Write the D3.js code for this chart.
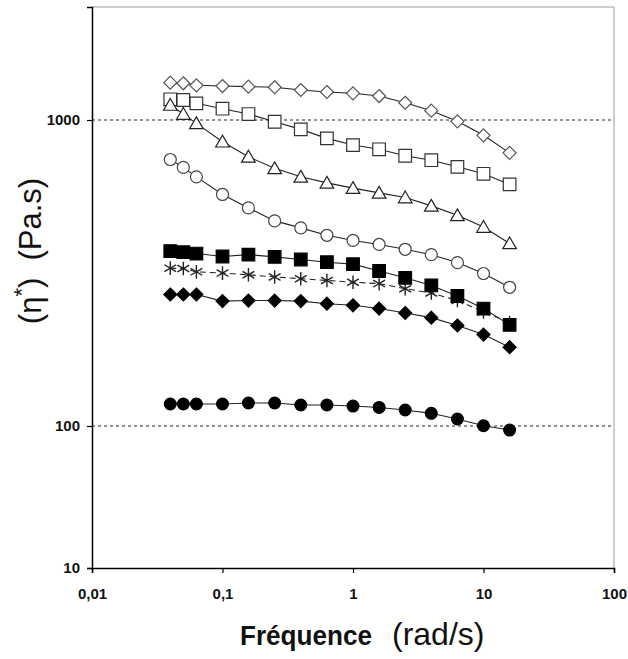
<!DOCTYPE html>
<html>
<head>
<meta charset="utf-8">
<script src="https://cdn.jsdelivr.net/npm/d3@7"></script>
<style>
  html, body { margin: 0; padding: 0; background: #fff; }
  svg { display: block; font-family: "Liberation Sans", Arial, sans-serif; }
  text { white-space: pre; }
</style>
</head>
<body>
<svg id="chart" width="628" height="659"></svg>
<script>
// Angular frequency sweep (rad/s)
const freq = [0.0398, 0.0501, 0.0631, 0.1, 0.158, 0.251, 0.398, 0.631, 1, 1.585, 2.512, 3.981, 6.31, 10, 15.85];

// Complex viscosity |η*| (Pa.s) for each sample
const openDiamond   = [1325, 1319, 1299, 1292, 1286, 1280, 1254, 1235, 1223, 1198, 1139, 1073, 990, 891, 781];
const openSquare    = [1169, 1163, 1134, 1089, 1046, 987, 932, 871, 828, 802, 764, 739, 703, 667, 616];
const openTriangle  = [1120, 1046, 975, 849, 758, 695, 652, 623, 599, 578, 558, 524, 488, 447, 395];
const openCircle    = [743, 700, 652, 571, 516, 468, 444, 420, 404, 392, 378, 363, 342, 315, 284];
const asterisk      = [328, 327, 319, 316, 312, 307, 303, 299, 295, 292, 281, 272, 257, 236, 218];
const filledSquare  = [373, 370, 366, 358, 363, 357, 350, 343, 338, 321, 305, 288, 266, 242, 214];
const filledDiamond = [269, 269, 269, 256, 257, 257, 256, 251, 248, 242, 234, 226, 213, 199, 181];
const filledCircle  = [118, 118, 118, 118, 118.9, 118.9, 117.1, 117.1, 116.2, 115.0, 112.8, 110.0, 105.4, 100.2, 93.6];

// Axis ticks and labels
const xTicks = [0.01, 0.1, 1, 10, 100];
const xTickLabels = ["0,01", "0,1", "1", "10", "100"];
const yTicks = [10, 100, 1000];
const yGrid = [100, 1000];
const yBreaks = [10, 100, 1000, 2345];

const svg = d3.select("#chart");
const plot = { left: 92, right: 614, top: 7, bottom: 568 };

const x = d3.scaleLog().domain([0.01, 100]).range([plot.left, plot.right]);
// Piecewise log axis: the lowest decade is drawn compressed
const y = d3.scaleLog().domain(yBreaks).range([568, 426, 120, plot.top]);

// Marker shapes; "size" is used as the half-width in pixels
const shapes = {
  diamond: { draw(c, r) { c.moveTo(0, -r); c.lineTo(r, 0); c.lineTo(0, r); c.lineTo(-r, 0); c.closePath(); } },
  square: { draw(c, r) { c.rect(-r, -r, 2 * r, 2 * r); } },
  triangle: { draw(c, r) { c.moveTo(0, -r * 1.05); c.lineTo(r * 1.1, r * 0.85); c.lineTo(-r * 1.1, r * 0.85); c.closePath(); } },
  circle: { draw(c, r) { c.moveTo(r, 0); c.arc(0, 0, r, 0, 2 * Math.PI); } },
  asterisk: { draw(c, r) {
    for (let i = 0; i < 3; i++) {
      const a = Math.PI / 2 + i * Math.PI / 3;
      c.moveTo(Math.cos(a) * r, Math.sin(a) * r);
      c.lineTo(-Math.cos(a) * r, -Math.sin(a) * r);
    }
  } }
};

const series = [
  { values: openDiamond,   shape: "diamond",  r: 6.5, fill: "#fff", stroke: "#555", sw: 1.2, dash: null },
  { values: openSquare,    shape: "square",   r: 6.3, fill: "#fff", stroke: "#333", sw: 1.2, dash: null },
  { values: openTriangle,  shape: "triangle", r: 6.2, fill: "#fff", stroke: "#222", sw: 1.2, dash: null },
  { values: openCircle,    shape: "circle",   r: 6,   fill: "#fff", stroke: "#444", sw: 1.2, dash: null },
  { values: asterisk,      shape: "asterisk", r: 6.8, fill: "none", stroke: "#222", sw: 1.4, dash: "6,4" },
  { values: filledSquare,  shape: "square",   r: 6.3, fill: "#000", stroke: "#000", sw: 1.2, dash: null },
  { values: filledDiamond, shape: "diamond",  r: 6.5, fill: "#000", stroke: "#000", sw: 1.2, dash: null },
  { values: filledCircle,  shape: "circle",   r: 5.9, fill: "#000", stroke: "#000", sw: 1.2, dash: null }
];

// Dashed reference lines
svg.append("g").selectAll("line").data(yGrid).join("line")
  .attr("x1", plot.left).attr("x2", plot.right)
  .attr("y1", d => y(d)).attr("y2", d => y(d))
  .attr("stroke", "#222").attr("stroke-width", 1).attr("stroke-dasharray", "3,3");

// Frame on the top and right
svg.append("path")
  .attr("d", `M${plot.left},${plot.top}H${plot.right}V${plot.bottom}`)
  .attr("fill", "none").attr("stroke", "#999").attr("stroke-width", 1);

// Axes
const xAxis = svg.append("g").attr("transform", `translate(0,${plot.bottom})`)
  .call(d3.axisBottom(x).tickValues(xTicks).tickSize(5).tickPadding(15)
    .tickFormat((d, i) => xTickLabels[i]));
const yAxis = svg.append("g").attr("transform", `translate(${plot.left},0)`)
  .call(d3.axisLeft(y).tickValues(yTicks).tickSize(5).tickPadding(7)
    .tickFormat(d3.format("d")));
[xAxis, yAxis].forEach(g => {
  g.select(".domain").attr("stroke", "#000").attr("stroke-width", 1.5);
  g.selectAll(".tick line").attr("stroke", "#000").attr("stroke-width", 1.2);
  g.selectAll(".tick text").attr("font-size", 15).attr("font-weight", "bold")
    .attr("fill", "#111").attr("font-family", "Liberation Sans, Arial, sans-serif");
});

// Curves and markers
const line = d3.line().x((d, i) => x(freq[i])).y(d => y(d));
series.forEach(s => {
  const g = svg.append("g");
  g.append("path").datum(s.values)
    .attr("d", line).attr("fill", "none")
    .attr("stroke", "#222").attr("stroke-width", 1.1)
    .attr("stroke-dasharray", s.dash);
  g.selectAll("path.mark").data(s.values).join("path")
    .attr("class", "mark")
    .attr("transform", (d, i) => `translate(${x(freq[i])},${y(d)})`)
    .attr("d", d3.symbol().type(shapes[s.shape]).size(s.r))
    .attr("fill", s.fill).attr("stroke", s.stroke).attr("stroke-width", s.sw);
});

// Axis titles
svg.append("text").attr("x", 240).attr("y", 645)
  .attr("font-size", 27).attr("font-weight", "bold").attr("fill", "#111")
  .attr("textLength", 132).attr("lengthAdjust", "spacingAndGlyphs")
  .text("Fréquence");
svg.append("text").attr("x", 392).attr("y", 645)
  .attr("font-size", 32).attr("fill", "#111")
  .text("(rad/s)");

const yTitle = svg.append("text")
  .attr("transform", "translate(41,251) rotate(-90)")
  .attr("text-anchor", "middle").attr("font-size", 31).attr("fill", "#111");
yTitle.append("tspan").text("(η");
yTitle.append("tspan").attr("font-size", 22).attr("dy", -12).text("*");
yTitle.append("tspan").attr("dy", 12).text(")  (Pa.s)");
</script>
</body>
</html>
